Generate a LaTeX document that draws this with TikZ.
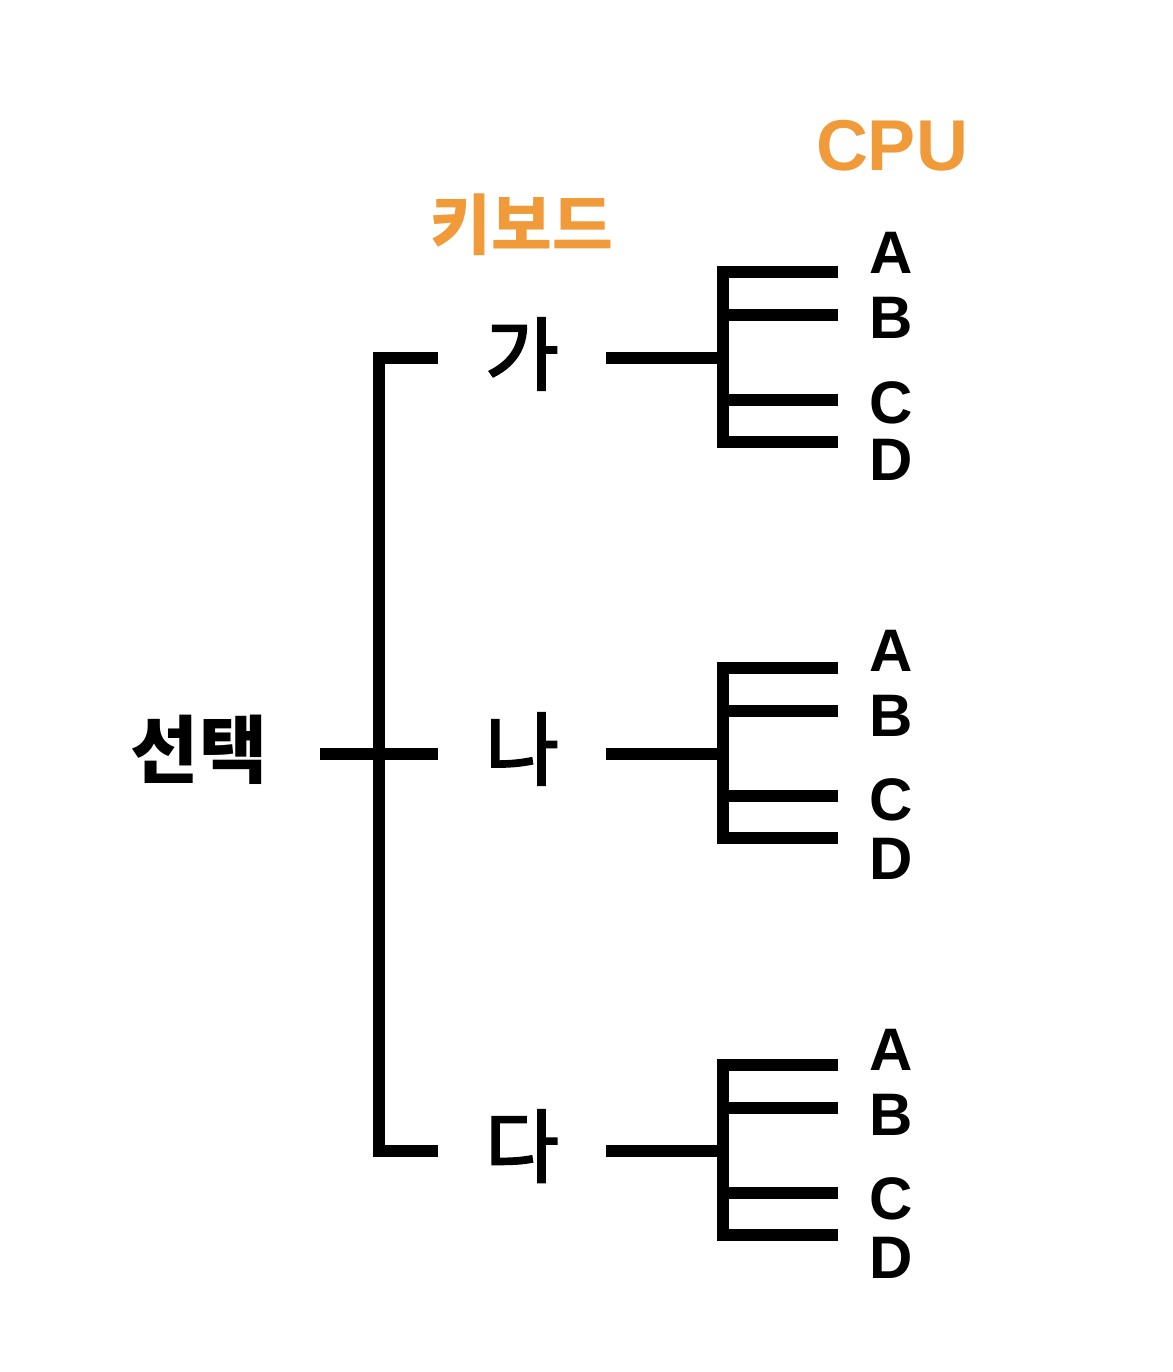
\documentclass[tikz,border=0pt]{standalone}
\usepackage{fontspec}
\usepackage{tikz}
\setmainfont{Liberation Sans}
\newfontfamily\korfont{Noto Sans CJK KR}
\newfontfamily\kormid[FakeBold=2.6]{Noto Sans CJK KR}
\definecolor{headorange}{RGB}{240,154,58}

\tikzset{
	bar/.style={line width=11.5pt, line join=miter, line cap=butt},
	letter/.style={anchor=base, inner sep=0pt, font=\fontsize{60}{60}\selectfont\bfseries},
	choice/.style={anchor=base, inner sep=0pt, font=\kormid\fontsize{80}{80}\selectfont},
	header/.style={anchor=base, inner sep=0pt, text=headorange}
}

\begin{document}
\begin{tikzpicture}[x=1pt,y=-1pt]
	\useasboundingbox (0,0) rectangle (1172,1372);
	
	\node[header, font=\fontsize{72}{72}\selectfont\bfseries] (cpu) at (892, 171) {CPU};
	\node[header, font=\korfont\bfseries\fontsize{66}{66}\selectfont] (kbd) at (522, 250) {키보드};
	\node[choice, font=\korfont\bfseries\fontsize{74}{74}\selectfont] (sel) at (199, 777) {선택};
	\node[choice] (ga) at (522, 384) {가};
	\node[choice] (na) at (522, 779) {나};
	\node[choice] (da) at (522, 1176) {다};
	
	\coordinate (sel-r) at (320, 754);
	\coordinate (top) at (379, 358);
	\coordinate (bot) at (379, 1151);
	\coordinate (ga-l) at (438, 358);
	\coordinate (na-l) at (438, 754);
	\coordinate (da-l) at (438, 1151);
	
	\draw[bar] (ga-l) -- (top) -- (bot) -- (da-l);
	\draw[bar] (sel-r) -- (na-l);
	
	\coordinate (ga-r) at (606, 358);
	\coordinate (ga-fork) at (723, 358);
	\coordinate (ga-1) at (723, 272);
	\coordinate (ga-2) at (723, 315);
	\coordinate (ga-3) at (723, 400);
	\coordinate (ga-4) at (723, 442);
	\coordinate (ga-1e) at (838, 272);
	\coordinate (ga-2e) at (838, 315);
	\coordinate (ga-3e) at (838, 400);
	\coordinate (ga-4e) at (838, 442);
	
	\node[letter] (ga-a) at (891, 273) {A};
	\node[letter] (ga-b) at (891, 338) {B};
	\node[letter] (ga-c) at (891, 423) {C};
	\node[letter] (ga-d) at (891, 480) {D};
	
	\draw[bar] (ga-r) -- (ga-fork);
	\draw[bar] (ga-1e) -- (ga-1) -- (ga-4) -- (ga-4e);
	\draw[bar] (ga-2) -- (ga-2e);
	\draw[bar] (ga-3) -- (ga-3e);
	
	\coordinate (na-r) at (606, 754);
	\coordinate (na-fork) at (723, 754);
	\coordinate (na-1) at (723, 668);
	\coordinate (na-2) at (723, 711);
	\coordinate (na-3) at (723, 796);
	\coordinate (na-4) at (723, 838);
	\coordinate (na-1e) at (838, 668);
	\coordinate (na-2e) at (838, 711);
	\coordinate (na-3e) at (838, 796);
	\coordinate (na-4e) at (838, 838);
	
	\node[letter] (na-a) at (891, 671) {A};
	\node[letter] (na-b) at (891, 736) {B};
	\node[letter] (na-c) at (891, 820) {C};
	\node[letter] (na-d) at (891, 879) {D};
	
	\draw[bar] (na-r) -- (na-fork);
	\draw[bar] (na-1e) -- (na-1) -- (na-4) -- (na-4e);
	\draw[bar] (na-2) -- (na-2e);
	\draw[bar] (na-3) -- (na-3e);
	
	\coordinate (da-r) at (606, 1151);
	\coordinate (da-fork) at (723, 1151);
	\coordinate (da-1) at (723, 1065);
	\coordinate (da-2) at (723, 1108);
	\coordinate (da-3) at (723, 1193);
	\coordinate (da-4) at (723, 1235);
	\coordinate (da-1e) at (838, 1065);
	\coordinate (da-2e) at (838, 1108);
	\coordinate (da-3e) at (838, 1193);
	\coordinate (da-4e) at (838, 1235);
	
	\node[letter] (da-a) at (891, 1070) {A};
	\node[letter] (da-b) at (891, 1135) {B};
	\node[letter] (da-c) at (891, 1219) {C};
	\node[letter] (da-d) at (891, 1278) {D};
	
	\draw[bar] (da-r) -- (da-fork);
	\draw[bar] (da-1e) -- (da-1) -- (da-4) -- (da-4e);
	\draw[bar] (da-2) -- (da-2e);
	\draw[bar] (da-3) -- (da-3e);
\end{tikzpicture}
\end{document}
